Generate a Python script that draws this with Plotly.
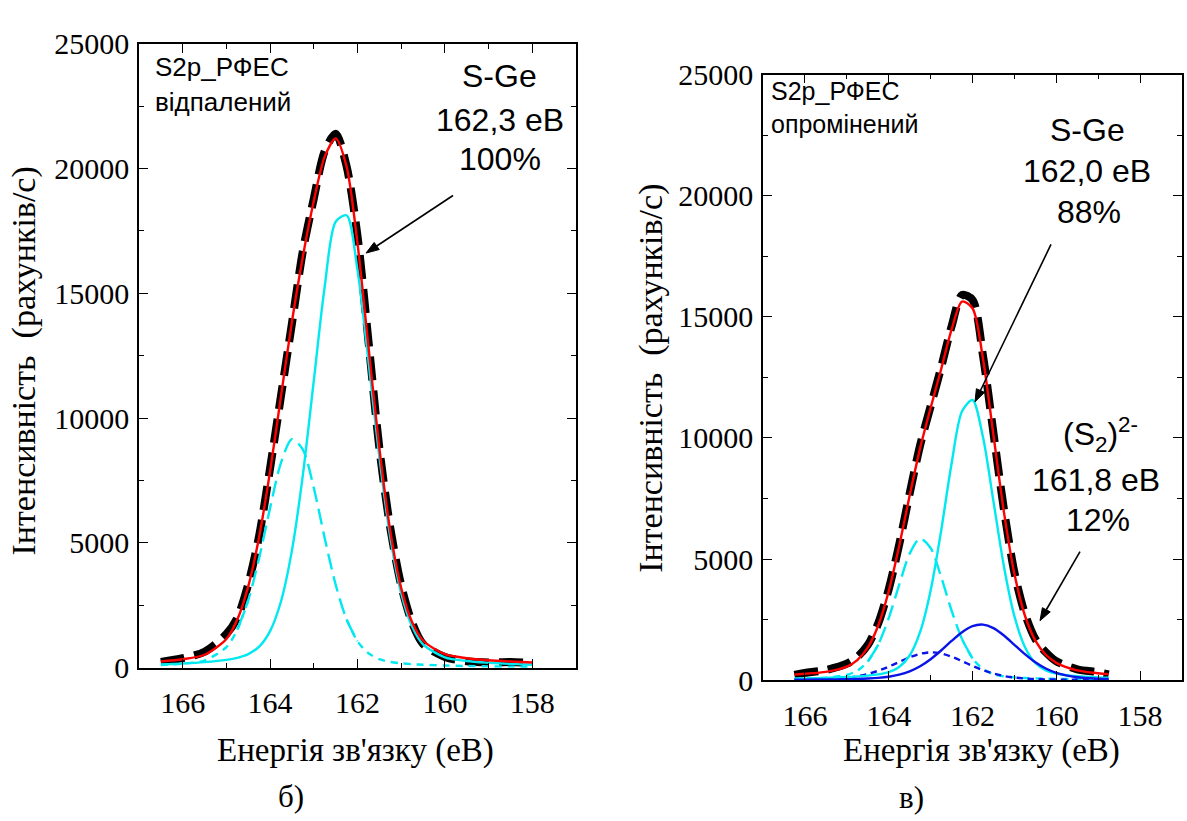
import math
import plotly.graph_objects as go

W, H = 1187, 821
SERIF = "Liberation Serif"
SANS = "Liberation Sans"

# ---------------- panel б): annealed film ----------------
e_b = [166.5, 166.0, 165.5, 165.0, 164.75, 164.5, 164.25, 164.0, 163.75, 163.5,
       163.25, 163.0, 162.75, 162.5, 162.25, 162.0, 161.75, 161.5, 161.25, 161.0,
       160.75, 160.5, 160.0, 159.5, 159.0, 158.5, 158.0]
exp_b = [230, 380, 640, 1350, 2000, 3350, 5300, 8000, 10900, 13800,
         16700, 18800, 20700, 21400, 20100, 17300, 13100, 8800, 5600, 3300,
         1800, 950, 430, 260, 210, 230, 180]
fit_b = [250, 340, 520, 1150, 1930, 3260, 5250, 7880, 10890, 13870,
         16480, 18700, 20480, 21210, 20080, 17000, 12880, 8800, 5480, 3190,
         1820, 1090, 540, 380, 300, 250, 210]
sge32_b = [132, 168, 222, 314, 396, 545, 846, 1468, 2663, 4702,
           7728, 11500, 15280, 17870, 18130, 15930, 12290, 8440, 5230, 2990,
           1650, 937, 418, 268, 198, 152, 120]
sge12_b = [111, 160, 287, 827, 1526, 2705, 4400, 6405, 8222, 9160,
           8742, 7198, 5190, 3330, 1937, 1058, 578, 342, 230, 175,
           140, 119, 88, 68, 54, 44, 36]

# ---------------- panel в): irradiated film ----------------
e_v = [166.25, 166.0, 165.5, 165.0, 164.75, 164.5, 164.25, 164.0, 163.75, 163.5,
       163.25, 163.0, 162.75, 162.5, 162.25, 162.0, 161.75, 161.5, 161.25, 161.0,
       160.75, 160.5, 160.25, 160.0, 159.5, 159.0, 158.75]
exp_v = [220, 300, 420, 680, 960, 1450, 2350, 3750, 5600, 7700,
         9700, 11300, 12900, 14600, 15900, 15700, 13400, 10200, 7050, 4450,
         2750, 1700, 1150, 780, 450, 330, 240]
fit_v = [230, 265, 345, 560, 830, 1345, 2255, 3670, 5535, 7620,
         9580, 11235, 12825, 14470, 15630, 15355, 13270, 10120, 6935, 4390,
         2670, 1635, 1050, 715, 405, 285, 250]
sge32_v = [65, 74, 96, 129, 153, 186, 238, 334, 546, 1019,
           1993, 3696, 6150, 8935, 11100, 11565, 10035, 7380, 4696, 2643,
           1372, 710, 406, 271, 165, 118, 102]
sge12_v = [61, 72, 107, 220, 395, 768, 1467, 2563, 3938, 5223,
           5853, 5455, 4275, 2876, 1695, 902, 462, 251, 157, 115,
           90, 75, 63, 54, 41, 32, 29]
s2_32_v = [22, 25, 31, 42, 52, 67, 94, 143, 228, 367,
           577, 867, 1226, 1619, 1981, 2232, 2295, 2151, 1845, 1461,
           1076, 741, 483, 303, 120, 60, 48]
s2_12_v = [20, 24, 43, 100, 161, 255, 389, 560, 754, 944,
           1089, 1150, 1105, 971, 786, 590, 414, 274, 173, 108,
           68, 45, 33, 25, 18, 14, 12]

x_ticks = [166, 164, 162, 160, 158]
y_ticks = [0, 5000, 10000, 15000, 20000, 25000]

CYAN = "#00e8f0"
BLUE = "#0a14e6"
RED = "#ff0000"


def px(x):
    return x / W


def py(y):
    return 1 - y / H


fig = go.Figure()


def line(xa, ya, e, vals, color, width, dash="solid"):
    fig.add_trace(go.Scatter(x=e, y=vals, mode="lines", xaxis=xa, yaxis=ya,
                             line=dict(color=color, width=width, dash=dash,
                                       shape="spline", smoothing=0.8)))


def dashed_component(xa, ya, e, vals, color):
    # long dashes around the maximum, short dashes in the low tails
    top = max(vals)
    strong = [v >= 0.2 * top for v in vals]
    i = 0
    n = len(vals)
    while i < n:
        j = i
        while j + 1 < n and strong[j + 1] == strong[i]:
            j += 1
        lo, hi = max(i - 1, 0), min(j + 2, n)
        dash = "16px,7px" if strong[i] else "7px,6px"
        line(xa, ya, e[lo:hi], vals[lo:hi], color, 2.4, dash)
        i = j + 1


def add_panel(xa, ya, e, exp, fit, dashed, solid):
    line(xa, ya, e, exp, "black", 8, "24px,10px")
    for vals, color in dashed:
        dashed_component(xa, ya, e, vals, color)
    for vals, color, dash in solid:
        line(xa, ya, e, vals, color, 2.4, dash)
    line(xa, ya, e, fit, RED, 2.4)


add_panel("x", "y", e_b, exp_b, fit_b,
          [(sge12_b, CYAN)],
          [(sge32_b, CYAN, "solid")])
add_panel("x2", "y2", e_v, exp_v, fit_v,
          [(sge12_v, CYAN)],
          [(s2_12_v, BLUE, "6px,5px"),
           (sge32_v, CYAN, "solid"),
           (s2_32_v, BLUE, "solid")])

tick_font = dict(family=SERIF, size=30, color="black")
minor_x = dict(dtick=1, ticks="inside", ticklen=5, tickwidth=1.3, tickcolor="black")
minor_y = dict(dtick=2500, ticks="inside", ticklen=5, tickwidth=1.3, tickcolor="black")


def xaxis(domain, anchor):
    return dict(domain=domain, anchor=anchor, range=[167, 157],
                tickmode="array", tickvals=x_ticks, ticktext=[str(v) for v in x_ticks],
                showline=True, linecolor="black", linewidth=1.5, mirror="ticks",
                ticks="inside", ticklen=9, tickwidth=1.3, tickcolor="black",
                ticklabelstandoff=8,
                showgrid=False, zeroline=False, tickfont=tick_font, minor=minor_x)


def yaxis(domain, anchor):
    return dict(domain=domain, anchor=anchor, range=[0, 25000],
                tickmode="array", tickvals=y_ticks, ticktext=[str(v) for v in y_ticks],
                showline=True, linecolor="black", linewidth=1.5, mirror="ticks",
                ticks="inside", ticklen=9, tickwidth=1.3, tickcolor="black",
                ticklabelstandoff=2,
                showgrid=False, zeroline=False, tickfont=tick_font, minor=minor_y)


annotations = []
shapes = []


def text(s, x, y, size, family=SANS, xanchor="center", angle=0):
    annotations.append(dict(text=s, x=px(x), y=py(y), xref="paper", yref="paper",
                            xanchor=xanchor, yanchor="middle", showarrow=False,
                            textangle=angle,
                            font=dict(family=family, size=size, color="black")))


def arrow(x0, y0, x1, y1, head=13, half=4.5):
    # shaft plus a filled head pointing at (x1, y1), in page pixels
    dx, dy = x1 - x0, y1 - y0
    d = math.hypot(dx, dy)
    ux, uy = dx / d, dy / d
    bx, by = x1 - head * ux, y1 - head * uy
    nx, ny = -uy, ux
    shapes.append(dict(type="line", xref="paper", yref="paper",
                       x0=px(x0), y0=py(y0), x1=px(bx), y1=py(by),
                       line=dict(color="black", width=1.6)))
    path = "M {} {} L {} {} L {} {} Z".format(
        px(x1), py(y1),
        px(bx + half * nx), py(by + half * ny),
        px(bx - half * nx), py(by - half * ny))
    shapes.append(dict(type="path", xref="paper", yref="paper", path=path,
                       fillcolor="black", line=dict(color="black", width=1)))


# panel б) labels
text("S2p_РФЕС", 153, 53, 26, xanchor="left")
text("відпалений", 153, 90, 26, xanchor="left")
text("S-Ge", 500, 63, 32)
text("162,3 еВ", 500, 108, 32)
text("100%", 500, 149, 32)
arrow(453, 187, 366, 247)
text("Інтенсивність  (рахунків/с)", 24, 360, 34, family=SERIF, angle=-90)
text("Енергія зв'язку (еВ)", 355, 765, 33, family=SERIF)
text("б)", 291, 813, 31, family=SERIF)

# panel в) labels
text("S2p_РФЕС", 769, 78, 25, xanchor="left")
text("опромінений", 769, 113, 25, xanchor="left")
text("S-Ge", 1087, 119, 32)
text("162,0 еВ", 1087, 162, 32)
text("88%", 1089, 204, 32)
arrow(1051, 238, 975, 402)
text("(S<sub>2</sub>)<sup>2-</sup>", 1100, 436, 32)
text("161,8 еВ", 1096, 483, 32)
text("12%", 1098, 525, 32)
arrow(1080, 558, 1040, 630)
text("Інтенсивність  (рахунків/с)", 651, 378, 34, family=SERIF, angle=-90)
text("Енергія зв'язку (еВ)", 981, 765, 33, family=SERIF)
text("в)", 911, 814, 31, family=SERIF)

fig.update_layout(
    width=W, height=H, autosize=False,
    margin=dict(l=0, r=0, t=0, b=0),
    paper_bgcolor="white", plot_bgcolor="white",
    showlegend=False,
    xaxis=xaxis([px(139), px(576)], "y"),
    yaxis=yaxis([py(679), py(29)], "x"),
    xaxis2=xaxis([px(763), px(1182)], "y2"),
    yaxis2=yaxis([py(692), py(61)], "x2"),
    annotations=annotations,
    shapes=shapes,
)

fig.write_html("out.html")
